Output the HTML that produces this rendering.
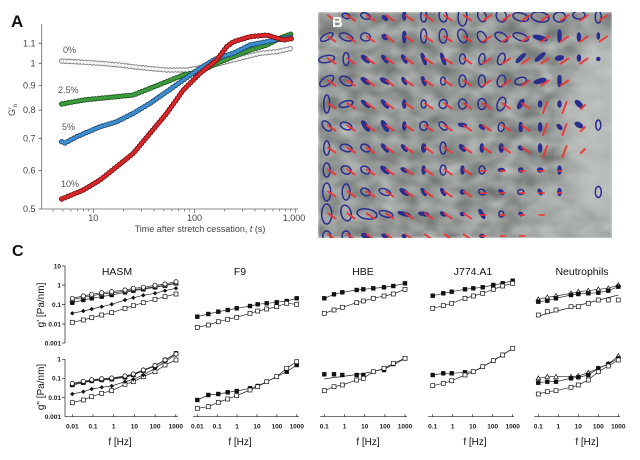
<!DOCTYPE html>
<html><head><meta charset="utf-8">
<style>html,body{margin:0;padding:0;background:#fff}svg{display:block}
.s{fill:none;stroke:#222;stroke-width:.7}
.e ellipse{fill:none;stroke:#2c2e8e;stroke-width:1.5}
.e ellipse.f{fill:#2c2e8e}
</style></head><body>
<svg width="640" height="460" viewBox="0 0 640 460" xmlns="http://www.w3.org/2000/svg" font-family="'Liberation Sans', Arial, sans-serif">
<defs>
<marker id="mos" markerWidth="6" markerHeight="6" refX="3" refY="3" markerUnits="userSpaceOnUse" overflow="visible"><rect x="1" y="1" width="4" height="4" fill="#fff" stroke="#111" stroke-width=".7"/></marker>
<marker id="mfs" markerWidth="6" markerHeight="6" refX="3" refY="3" markerUnits="userSpaceOnUse" overflow="visible"><rect x="0.8" y="0.8" width="4.4" height="4.4" fill="#111"/></marker>
<marker id="moc" markerWidth="6" markerHeight="6" refX="3" refY="3" markerUnits="userSpaceOnUse" overflow="visible"><circle cx="3" cy="3" r="2.1" fill="#fff" stroke="#111" stroke-width=".7"/></marker>
<marker id="mfd" markerWidth="6" markerHeight="6" refX="3" refY="3" markerUnits="userSpaceOnUse" overflow="visible"><path d="M3,0.8L5.2,3L3,5.2L0.8,3Z" fill="#111"/></marker>
<marker id="mot" markerWidth="6" markerHeight="6" refX="3" refY="3" markerUnits="userSpaceOnUse" overflow="visible"><path d="M3,0.6L5.3,4.6H0.7Z" fill="#fff" stroke="#111" stroke-width=".7"/></marker>
<filter id="tex" x="318" y="12" width="294" height="226" filterUnits="userSpaceOnUse" color-interpolation-filters="sRGB">
<feTurbulence type="fractalNoise" baseFrequency="0.05 0.08" numOctaves="2" seed="7" result="n"/>
<feColorMatrix in="n" type="matrix" values="0.42 0 0 0 0.37  0.42 0 0 0 0.385  0.42 0 0 0 0.375  0 0 0 0 1" result="c"/>
<feGaussianBlur in="c" stdDeviation="1"/>
</filter>
<filter id="bl10"><feGaussianBlur stdDeviation="10"/></filter>
<filter id="bl04"><feGaussianBlur stdDeviation="0.35"/></filter>
<clipPath id="cb"><rect x="318" y="12" width="294" height="226"/></clipPath>
</defs>

<!-- ============ PANEL A ============ -->
<text x="11" y="27" font-size="17" font-weight="bold" fill="#111">A</text>
<path d="M41.7,24V209H298" stroke="#666" stroke-width=".8" fill="none"/>
<path d="M38.5,209h3.2M38.5,170.7h3.2M38.5,138.3h3.2M38.5,110.2h3.2M38.5,85.4h3.2M38.5,63.3h3.2M38.5,43.3h3.2" stroke="#666" stroke-width=".8"/>
<path d="M93.3,209v4M194.3,209v4M295.3,209v4" stroke="#666" stroke-width=".8"/>
<path d="M53.1,209v2.5M62.9,209v2.5M70.9,209v2.5M77.7,209v2.5M83.5,209v2.5M88.7,209v2.5M123.7,209v2.5M141.5,209v2.5M154,209v2.5M163.9,209v2.5M171.9,209v2.5M178.7,209v2.5M184.5,209v2.5M189.7,209v2.5M224.7,209v2.5M242.5,209v2.5M255,209v2.5M264.9,209v2.5M272.9,209v2.5M279.7,209v2.5M285.5,209v2.5M290.7,209v2.5" stroke="#666" stroke-width=".7"/>
<g font-size="9" fill="#444" text-anchor="end">
<text x="35.5" y="212">0.5</text><text x="35.5" y="173.7">0.6</text><text x="35.5" y="141.3">0.7</text><text x="35.5" y="113.2">0.8</text><text x="35.5" y="88.4">0.9</text><text x="35.5" y="66.3">1</text><text x="35.5" y="46.3">1.1</text>
</g>
<g font-size="9" fill="#444" text-anchor="middle">
<text x="93.3" y="221">10</text><text x="194.5" y="221">100</text><text x="294" y="221">1,000</text>
<text x="200" y="232">Time after stretch cessation, <tspan font-style="italic">t</tspan> (s)</text>
<text transform="translate(15,110) rotate(-90)">G′<tspan font-size="6" dy="2">n</tspan></text>
</g>
<g font-size="9" fill="#555">
<text x="63" y="53">0%</text><text x="58" y="93">2.5%</text><text x="62" y="130">5%</text><text x="61" y="187">10%</text>
</g>
<g fill="none" stroke-linecap="round" stroke-linejoin="round" stroke-dasharray="0 3.4">
<path d="M61.7,61 L80,62 L100,63.3 L120,65 L133,66.7 L150,68.5 L166.7,70 L186.7,70 L206.7,66.7 L233,60 L260,53.3 L276.7,51.7 L293,48" stroke="#7a7a7a" stroke-width="5.4"/>
<path d="M61.7,61 L80,62 L100,63.3 L120,65 L133,66.7 L150,68.5 L166.7,70 L186.7,70 L206.7,66.7 L233,60 L260,53.3 L276.7,51.7 L293,48" stroke="#f4f4f4" stroke-width="3.6"/>
<path d="M61.7,104 L83.3,100 L100,98.3 L133.3,95 L150,88.3 L166.7,81.7 L183.3,75 L200,71.7 L216.7,63.3 L233.3,56.7 L250,50 L266.7,45 L283.3,36.7 L293.3,33.3" stroke="#1d4d1d" stroke-width="5.4"/>
<path d="M61.7,104 L83.3,100 L100,98.3 L133.3,95 L150,88.3 L166.7,81.7 L183.3,75 L200,71.7 L216.7,63.3 L233.3,56.7 L250,50 L266.7,45 L283.3,36.7 L293.3,33.3" stroke="#3c9c3c" stroke-width="3.8"/>
<path d="M61.7,141.7 L65,143 L76.7,136.7 L100,126.7 L116.7,121.7 L133.3,113.3 L150,103.3 L166.7,91.7 L183.3,80 L200,68.3 L216.7,58.3 L233.3,53.3 L250,45 L266.7,41.7 L283.3,38.3 L293.3,36.7" stroke="#1b3f66" stroke-width="5.4"/>
<path d="M61.7,141.7 L65,143 L76.7,136.7 L100,126.7 L116.7,121.7 L133.3,113.3 L150,103.3 L166.7,91.7 L183.3,80 L200,68.3 L216.7,58.3 L233.3,53.3 L250,45 L266.7,41.7 L283.3,38.3 L293.3,36.7" stroke="#3d8fd0" stroke-width="3.8"/>
<path d="M61.7,199 L83.3,190 L100,180 L116.7,166.7 L133.3,153.3 L150,133.3 L166.7,113.3 L183.3,90 L200,73.3 L216.7,60 L226.7,46.7 L233.3,41.7 L250,36.7 L266.7,35 L283.3,40 L293.3,38.3" stroke="#6b0d0d" stroke-width="5.4"/>
<path d="M61.7,199 L83.3,190 L100,180 L116.7,166.7 L133.3,153.3 L150,133.3 L166.7,113.3 L183.3,90 L200,73.3 L216.7,60 L226.7,46.7 L233.3,41.7 L250,36.7 L266.7,35 L283.3,40 L293.3,38.3" stroke="#d8262a" stroke-width="3.8"/>
</g>

<!-- ============ PANEL B ============ -->
<g clip-path="url(#cb)">
<rect x="318" y="12" width="294" height="226" fill="#999" filter="url(#tex)"/>
<ellipse cx="608" cy="125" rx="45" ry="90" fill="#c4c8c5" opacity="0.75" filter="url(#bl10)"/>
<rect x="530" y="180" width="90" height="65" fill="#c0c4c1" opacity="0.5" filter="url(#bl10)"/>
<g class="e" filter="url(#bl04)">
<ellipse cx="346.1" cy="16" rx="4" ry="2.5" transform="rotate(20 346.1 16)"/>
<ellipse cx="365.5" cy="16" rx="5" ry="3" transform="rotate(20 365.5 16)"/>
<ellipse class="f" cx="384.9" cy="18" rx="3" ry="1.5" transform="rotate(40 384.9 18)"/>
<ellipse class="f" cx="404.3" cy="16" rx="1.5" ry="4"/>
<ellipse cx="423.7" cy="16" rx="3" ry="6"/>
<ellipse cx="443.1" cy="16" rx="4" ry="6" transform="rotate(-10 443.1 16)"/>
<ellipse cx="462.5" cy="17" rx="4.5" ry="9"/>
<ellipse cx="481.9" cy="16" rx="4" ry="6" transform="rotate(-20 481.9 16)"/>
<ellipse cx="501.3" cy="16" rx="5" ry="6" transform="rotate(-20 501.3 16)"/>
<ellipse cx="520.7" cy="17" rx="8" ry="4" transform="rotate(15 520.7 17)"/>
<ellipse cx="540.1" cy="17" rx="9" ry="5" transform="rotate(10 540.1 17)"/>
<ellipse cx="559.5" cy="17" rx="6" ry="5"/>
<ellipse cx="578.9" cy="15" rx="6" ry="4"/>
<ellipse cx="598.3" cy="17" rx="3" ry="6"/>

<ellipse cx="326.7" cy="37" rx="7" ry="3" transform="rotate(-30 326.7 37)"/>
<ellipse cx="346.1" cy="37" rx="7" ry="3.5" transform="rotate(20 346.1 37)"/>
<ellipse cx="365.5" cy="37" rx="5" ry="4" transform="rotate(10 365.5 37)"/>
<ellipse class="f" cx="384.9" cy="37" rx="3" ry="2" transform="rotate(40 384.9 37)"/>
<ellipse class="f" cx="404.3" cy="37" rx="1.5" ry="5.5"/>
<ellipse cx="423.7" cy="36" rx="3" ry="7"/>
<ellipse cx="443.1" cy="36" rx="4" ry="7"/>
<ellipse cx="462.5" cy="36" rx="4.5" ry="7" transform="rotate(-20 462.5 36)"/>
<ellipse cx="481.9" cy="37" rx="4" ry="6" transform="rotate(-30 481.9 37)"/>
<ellipse cx="501.3" cy="37" rx="7" ry="4" transform="rotate(30 501.3 37)"/>
<ellipse cx="520.7" cy="37" rx="8" ry="3.5" transform="rotate(20 520.7 37)"/>
<ellipse class="f" cx="540.1" cy="38" rx="7" ry="2" transform="rotate(15 540.1 38)"/>
<ellipse class="f" cx="559.5" cy="36" rx="1.5" ry="6"/>
<ellipse class="f" cx="578.9" cy="37" rx="1.5" ry="4"/>
<ellipse class="f" cx="598.3" cy="36" rx="1" ry="3"/>

<ellipse cx="326.7" cy="59" rx="8" ry="3.5" transform="rotate(-10 326.7 59)"/>
<ellipse cx="346.1" cy="59" rx="3" ry="6.5"/>
<ellipse class="f" cx="365.5" cy="59" rx="5" ry="2" transform="rotate(40 365.5 59)"/>
<ellipse class="f" cx="384.9" cy="59" rx="4.5" ry="1.5" transform="rotate(50 384.9 59)"/>
<ellipse class="f" cx="404.3" cy="59" rx="4.5" ry="1.5" transform="rotate(60 404.3 59)"/>
<ellipse class="f" cx="423.7" cy="59" rx="6" ry="1.5" transform="rotate(70 423.7 59)"/>
<ellipse class="f" cx="443.1" cy="59" rx="6" ry="1.5" transform="rotate(70 443.1 59)"/>
<ellipse cx="462.5" cy="59" rx="3" ry="5"/>
<ellipse cx="481.9" cy="59" rx="3" ry="5.5" transform="rotate(10 481.9 59)"/>
<ellipse cx="501.3" cy="59" rx="3.5" ry="6" transform="rotate(20 501.3 59)"/>
<ellipse class="f" cx="520.7" cy="58" rx="6" ry="1.5" transform="rotate(-45 520.7 58)"/>
<ellipse class="f" cx="540.1" cy="57" rx="6" ry="1.5" transform="rotate(-40 540.1 57)"/>
<ellipse class="f" cx="559.5" cy="58" rx="4" ry="2" transform="rotate(-10 559.5 58)"/>
<ellipse class="f" cx="578.9" cy="58" rx="1.5" ry="3"/>
<ellipse class="f" cx="598.3" cy="59" rx="1.5" ry="1.5"/>

<ellipse cx="326.7" cy="81" rx="8" ry="4" transform="rotate(-35 326.7 81)"/>
<ellipse cx="346.1" cy="81" rx="7" ry="4" transform="rotate(30 346.1 81)"/>
<ellipse class="f" cx="365.5" cy="81" rx="5" ry="2" transform="rotate(35 365.5 81)"/>
<ellipse class="f" cx="384.9" cy="81" rx="5" ry="2" transform="rotate(30 384.9 81)"/>
<ellipse class="f" cx="404.3" cy="81" rx="4" ry="1.5" transform="rotate(60 404.3 81)"/>
<ellipse class="f" cx="423.7" cy="81" rx="4.5" ry="1.5" transform="rotate(70 423.7 81)"/>
<ellipse cx="443.1" cy="81" rx="2.5" ry="4"/>
<ellipse cx="462.5" cy="81" rx="3.5" ry="6"/>
<ellipse cx="481.9" cy="81" rx="3.5" ry="6"/>
<ellipse cx="501.3" cy="81" rx="4" ry="6" transform="rotate(15 501.3 81)"/>
<ellipse cx="520.7" cy="81" rx="6" ry="3.5" transform="rotate(-15 520.7 81)"/>
<ellipse class="f" cx="540.1" cy="81" rx="6" ry="2" transform="rotate(-15 540.1 81)"/>
<ellipse class="f" cx="559.5" cy="81" rx="1.5" ry="5.5"/>

<ellipse cx="326.7" cy="104" rx="3" ry="9"/>
<ellipse cx="346.1" cy="104" rx="7" ry="3" transform="rotate(-15 346.1 104)"/>
<ellipse class="f" cx="365.5" cy="104" rx="5" ry="1.5" transform="rotate(40 365.5 104)"/>
<ellipse class="f" cx="384.9" cy="104" rx="5" ry="1.5" transform="rotate(50 384.9 104)"/>
<ellipse class="f" cx="404.3" cy="104" rx="1.5" ry="4"/>
<ellipse cx="423.7" cy="104" rx="2.5" ry="4"/>
<ellipse cx="443.1" cy="104" rx="4" ry="4.5" transform="rotate(20 443.1 104)"/>
<ellipse cx="462.5" cy="104" rx="4" ry="5"/>
<ellipse cx="481.9" cy="104" rx="4" ry="5.5"/>
<ellipse cx="501.3" cy="104" rx="4" ry="7" transform="rotate(20 501.3 104)"/>
<ellipse class="f" cx="520.7" cy="104" rx="5" ry="2" transform="rotate(-60 520.7 104)"/>
<ellipse class="f" cx="540.1" cy="104" rx="1.5" ry="3"/>
<ellipse class="f" cx="559.5" cy="104" rx="1.5" ry="3"/>
<ellipse class="f" cx="578.9" cy="104" rx="4.5" ry="2" transform="rotate(45 578.9 104)"/>

<ellipse cx="326.7" cy="126" rx="6" ry="3.5" transform="rotate(50 326.7 126)"/>
<ellipse cx="346.1" cy="126" rx="6" ry="3.5" transform="rotate(20 346.1 126)"/>
<ellipse class="f" cx="365.5" cy="126" rx="6" ry="2" transform="rotate(55 365.5 126)"/>
<ellipse class="f" cx="384.9" cy="126" rx="6" ry="2" transform="rotate(60 384.9 126)"/>
<ellipse class="f" cx="404.3" cy="126" rx="1.5" ry="4"/>
<ellipse cx="423.7" cy="126" rx="4" ry="4.5"/>
<ellipse cx="443.1" cy="126" rx="5" ry="3" transform="rotate(45 443.1 126)"/>
<ellipse class="f" cx="462.5" cy="125" rx="4" ry="1.5" transform="rotate(10 462.5 125)"/>
<ellipse class="f" cx="481.9" cy="127" rx="3" ry="1.5" transform="rotate(40 481.9 127)"/>
<ellipse cx="501.3" cy="127" rx="3" ry="4.5" transform="rotate(10 501.3 127)"/>
<ellipse class="f" cx="520.7" cy="127" rx="1.5" ry="4.5"/>
<ellipse class="f" cx="540.1" cy="127" rx="1.5" ry="4"/>
<ellipse class="f" cx="559.5" cy="127" rx="3" ry="1.5" transform="rotate(45 559.5 127)"/>
<ellipse class="f" cx="578.9" cy="125" rx="4" ry="2" transform="rotate(30 578.9 125)"/>
<ellipse cx="598.3" cy="125" rx="2.5" ry="5"/>

<ellipse cx="326.7" cy="148" rx="3" ry="7"/>
<ellipse cx="346.1" cy="148" rx="6" ry="3.5" transform="rotate(15 346.1 148)"/>
<ellipse cx="365.5" cy="148" rx="5" ry="3.5" transform="rotate(30 365.5 148)"/>
<ellipse class="f" cx="384.9" cy="148" rx="5" ry="1.5" transform="rotate(50 384.9 148)"/>
<ellipse class="f" cx="404.3" cy="148" rx="4" ry="1.5" transform="rotate(50 404.3 148)"/>
<ellipse class="f" cx="423.7" cy="148" rx="2" ry="4"/>
<ellipse cx="443.1" cy="148" rx="3" ry="6"/>
<ellipse class="f" cx="462.5" cy="148" rx="4" ry="2" transform="rotate(45 462.5 148)"/>
<ellipse class="f" cx="481.9" cy="148" rx="1.5" ry="4"/>
<ellipse class="f" cx="501.3" cy="148" rx="2" ry="4"/>
<ellipse class="f" cx="520.7" cy="148" rx="2.5" ry="1.5" transform="rotate(30 520.7 148)"/>
<ellipse class="f" cx="540.1" cy="148" rx="1.5" ry="4"/>

<ellipse cx="326.7" cy="170" rx="3.5" ry="7"/>
<ellipse cx="346.1" cy="170" rx="5" ry="4" transform="rotate(20 346.1 170)"/>
<ellipse cx="365.5" cy="170" rx="5" ry="3.5" transform="rotate(30 365.5 170)"/>
<ellipse class="f" cx="384.9" cy="170" rx="5" ry="2" transform="rotate(40 384.9 170)"/>
<ellipse class="f" cx="404.3" cy="170" rx="3.5" ry="1.5" transform="rotate(30 404.3 170)"/>
<ellipse class="f" cx="423.7" cy="170" rx="1.5" ry="4"/>
<ellipse cx="443.1" cy="170" rx="3" ry="5"/>
<ellipse class="f" cx="462.5" cy="170" rx="1.5" ry="4"/>
<ellipse cx="481.9" cy="170" rx="3" ry="4"/>
<ellipse class="f" cx="501.3" cy="170" rx="3" ry="1.5"/>
<ellipse class="f" cx="520.7" cy="170" rx="2" ry="2"/>
<ellipse class="f" cx="540.1" cy="170" rx="2.5" ry="2"/>
<ellipse class="f" cx="559.5" cy="170" rx="1.5" ry="4"/>

<ellipse cx="326.7" cy="192" rx="4" ry="9"/>
<ellipse cx="346.1" cy="192" rx="4" ry="8"/>
<ellipse cx="365.5" cy="192" rx="5" ry="3.5" transform="rotate(30 365.5 192)"/>
<ellipse cx="384.9" cy="192" rx="6" ry="3" transform="rotate(20 384.9 192)"/>
<ellipse class="f" cx="404.3" cy="192" rx="5" ry="2" transform="rotate(35 404.3 192)"/>
<ellipse class="f" cx="423.7" cy="192" rx="4" ry="1.5" transform="rotate(60 423.7 192)"/>
<ellipse class="f" cx="443.1" cy="192" rx="4" ry="1.5" transform="rotate(60 443.1 192)"/>
<ellipse class="f" cx="462.5" cy="192" rx="2" ry="2"/>
<ellipse cx="481.9" cy="192" rx="3.5" ry="2.5" transform="rotate(30 481.9 192)"/>
<ellipse class="f" cx="501.3" cy="192" rx="3" ry="1.5" transform="rotate(45 501.3 192)"/>
<ellipse cx="520.7" cy="192" rx="3" ry="2.5"/>
<ellipse class="f" cx="540.1" cy="192" rx="3" ry="1.5" transform="rotate(60 540.1 192)"/>
<ellipse class="f" cx="559.5" cy="192" rx="1.5" ry="3.5"/>
<ellipse cx="598.3" cy="192" rx="3" ry="5.5"/>

<ellipse cx="326.7" cy="214" rx="5" ry="10"/>
<ellipse cx="346.1" cy="213" rx="5" ry="8" transform="rotate(-15 346.1 213)"/>
<ellipse cx="367" cy="214" rx="10" ry="5" transform="rotate(10 367 214)"/>
<ellipse cx="386" cy="214" rx="7" ry="3" transform="rotate(15 386 214)"/>
<ellipse class="f" cx="404.3" cy="214" rx="6" ry="1.5" transform="rotate(15 404.3 214)"/>
<ellipse class="f" cx="423.7" cy="214" rx="5" ry="1.5" transform="rotate(10 423.7 214)"/>
<ellipse class="f" cx="443.1" cy="214" rx="3" ry="1.5" transform="rotate(30 443.1 214)"/>
<ellipse class="f" cx="462.5" cy="214" rx="2" ry="1.5"/>
<ellipse class="f" cx="481.9" cy="214" rx="5" ry="1.5" transform="rotate(60 481.9 214)"/>
<ellipse cx="501.3" cy="214" rx="2.5" ry="3"/>
<ellipse class="f" cx="520.7" cy="214" rx="2" ry="1.5" transform="rotate(30 520.7 214)"/>

<ellipse cx="326.7" cy="236" rx="4" ry="5"/>
<ellipse cx="346.1" cy="236" rx="4" ry="5"/>
<ellipse class="f" cx="365.5" cy="236" rx="4" ry="2" transform="rotate(20 365.5 236)"/>
<ellipse class="f" cx="384.9" cy="236" rx="3" ry="1.5" transform="rotate(20 384.9 236)"/>
<ellipse class="f" cx="404.3" cy="236" rx="2" ry="1.5"/>
<ellipse class="f" cx="481.9" cy="236" rx="2" ry="1.5"/>
</g>
<g fill="none" stroke="#ef3434" stroke-width="2" stroke-linecap="round" opacity="0.92" filter="url(#bl04)">
<path d="M328,15.4l7.4,5.2m12,-5.2l7.4,5.2m12,-5.2l7.4,5.2m12,-5.2l7.4,5.2m12,-5.2l7.4,5.2m12,-5.2l7.4,5.2m12,-5.2l7.4,5.2m12,-5.2l7.4,5.2
M328,36.4l7.4,5.2m12,-5.2l7.4,5.2m12,-5.2l7.4,5.2m12,-5.2l7.4,5.2m12,-5.2l7.4,5.2m12,-5.2l7.4,5.2m12,-5.2l7.4,5.2m12,-5.2l7.4,5.2
M328,58.4l7.4,5.2m12,-5.2l7.4,5.2m12,-5.2l7.4,5.2m12,-5.2l7.4,5.2m12,-5.2l7.4,5.2m12,-5.2l7.4,5.2m12,-5.2l7.4,5.2m12,-5.2l7.4,5.2
M328,80.4l7.4,5.2m12,-5.2l7.4,5.2m12,-5.2l7.4,5.2m12,-5.2l7.4,5.2m12,-5.2l7.4,5.2m12,-5.2l7.4,5.2m12,-5.2l7.4,5.2m12,-5.2l7.4,5.2
M328,103.4l7.4,5.2m12,-5.2l7.4,5.2m12,-5.2l7.4,5.2m12,-5.2l7.4,5.2m12,-5.2l7.4,5.2m12,-5.2l7.4,5.2m12,-5.2l7.4,5.2m12,-5.2l7.4,5.2
M328,125.4l7.4,5.2m12,-5.2l7.4,5.2m12,-5.2l7.4,5.2m12,-5.2l7.4,5.2m12,-5.2l7.4,5.2m12,-5.2l7.4,5.2m12,-5.2l7.4,5.2m12,-5.2l7.4,5.2
M328,147.4l7.4,5.2m12,-5.2l7.4,5.2m12,-5.2l7.4,5.2m12,-5.2l7.4,5.2m12,-5.2l7.4,5.2m12,-5.2l7.4,5.2m12,-5.2l7.4,5.2m12,-5.2l7.4,5.2
M328,169.4l7.4,5.2m12,-5.2l7.4,5.2m12,-5.2l7.4,5.2m12,-5.2l7.4,5.2m12,-5.2l7.4,5.2m12,-5.2l7.4,5.2m12,-5.2l7.4,5.2m12,-5.2l7.4,5.2
M328,191.4l7.4,5.2m12,-5.2l7.4,5.2m12,-5.2l7.4,5.2m12,-5.2l7.4,5.2m12,-5.2l7.4,5.2m12,-5.2l7.4,5.2m12,-5.2l7.4,5.2m12,-5.2l7.4,5.2
M328,213.4l7.4,5.2m12,-5.2l7.4,5.2m12,-5.2l7.4,5.2m12,-5.2l7.4,5.2m12,-5.2l7.4,5.2m12,-5.2l7.4,5.2m12,-5.2l7.4,5.2m12,-5.2l7.4,5.2
M328,234.4l7.4,5.2m12,-5.2l7.4,5.2m12,-5.2l7.4,5.2m12,-5.2l7.4,5.2m12,-5.2l7.4,5.2m12,-5.2l7.4,5.2m12,-5.2l7.4,5.2m12,-5.2l7.4,5.2
M483.2,20.6l7.4,-5.2m12,5.2l7.4,-5.2m12,5.2l7.4,-5.2m12,5.2l7.4,-5.2m12,5.2l7.4,-5.2m12,5.2l7.4,-5.2m12,5.2l7.4,-5.2
M483.2,41.6l7.4,-5.2m12,5.2l7.4,-5.2m12,5.2l7.4,-5.2m12,5.2l7.4,-5.2m12,5.2l7.4,-5.2m12,5.2l7.4,-5.2m12,5.2l7.4,-5.2
M483.2,63.6l7.4,-5.2m12,5.2l7.4,-5.2m12,5.2l7.4,-5.2m12,5.2l7.4,-5.2m12,5.2l7.4,-5.2m12,5.2l7.4,-5.2
M483.2,85.6l7.4,-5.2m12,5.2l7.4,-5.2m12,5.2l7.4,-5.2m12,5.2l7.4,-5.2m12,5.2l7.4,-5.2
M483.2,103.4l7.4,5.2m12,-5.2l7.4,5.2m12,-5.2l7.4,5.2
M483.2,125.4l7.4,5.2m12,-5.2l7.4,5.2m12,-5.2l7.4,5.2
M483.2,147.4l7.4,5.2m12,-5.2l7.4,5.2m12,-5.2l7.4,5.2
M543.1,113l4,-11m15.4,11l4,-11
M543.1,135l4,-11m15.4,11l4,-11
M543.1,157l4,-11m15.4,11l4,-11
M580.9,109l4,-4M580.9,131l4,-4M580.9,153l4,-4"/>
<path stroke-width="1.7" d="M480.9,171l5,0m14.4,0l5,0m14.4,0l5,0m14.4,0l5,0m14.4,0l3,0
M480.9,193l5,0m14.4,0l5,0m14.4,0l5,0m14.4,0l5,0m14.4,0l3,0
M480.9,215l5,0m14.4,0l5,0m14.4,0l5,0m14.4,0l5,0
M480.9,236l5,0m14.4,0l5,0m14.4,0l5,0"/>
</g>
<text x="332" y="27" font-size="15" font-weight="bold" fill="#fff">B</text>
</g>

<!-- ============ PANEL C ============ -->
<text x="12" y="256" font-size="16" font-weight="bold" fill="#111">C</text>
<g font-size="10.5" fill="#111" text-anchor="middle">
<text x="117" y="275">HASM</text><text x="240" y="275">F9</text><text x="363" y="275">HBE</text><text x="473" y="275">J774.A1</text><text x="582" y="275">Neutrophils</text>
</g>
<g font-size="10" fill="#111" text-anchor="middle">
<text x="120" y="445">f [Hz]</text><text x="240" y="445">f [Hz]</text><text x="368" y="445">f [Hz]</text><text x="475" y="445">f [Hz]</text><text x="587" y="445">f [Hz]</text>
<text transform="translate(44,305) rotate(-90)">g' [Pa/nm]</text>
<text transform="translate(44,387) rotate(-90)">g" [Pa/nm]</text>
</g>
<g stroke="#222" stroke-width=".7" fill="none">
<path d="M65,266V343M62,266h3M62,285h3M62,304.5h3M62,324h3M62,343h3"/>
<path d="M65,359V416.7M62,359.3h3M62,378.3h3M62,397.7h3"/>
<path d="M65,416.7H178M193,416.7H299M320,416.7H407M428,416.7H514M534,416.7H620"/>
<path d="M72.3,416.7v-2.5M93,416.7v-2.5M113.7,416.7v-2.5M134.4,416.7v-2.5M155.1,416.7v-2.5M175.8,416.7v-2.5
M197.3,416.7v-2.5M217.2,416.7v-2.5M237.1,416.7v-2.5M257,416.7v-2.5M276.9,416.7v-2.5M296.8,416.7v-2.5
M324.3,416.7v-2.5M344.5,416.7v-2.5M364.7,416.7v-2.5M384.9,416.7v-2.5M405,416.7v-2.5
M432.7,416.7v-2.5M452.7,416.7v-2.5M472.7,416.7v-2.5M492.7,416.7v-2.5M512.7,416.7v-2.5
M538.3,416.7v-2.5M558.3,416.7v-2.5M578.3,416.7v-2.5M598.3,416.7v-2.5M618.3,416.7v-2.5"/>
</g>
<g font-size="6.5" font-weight="bold" fill="#222" text-anchor="end">
<text x="61" y="268.3">10</text><text x="61" y="287.3">1</text><text x="61" y="306.8">0.1</text><text x="61" y="326.3">0.01</text><text x="61" y="345.3">0.001</text>
<text x="61" y="361.6">1</text><text x="61" y="380.6">0.1</text><text x="61" y="400">0.01</text><text x="61" y="419">0.001</text>
</g>
<g font-size="6.5" font-weight="bold" fill="#222" text-anchor="middle">
<text x="72.3" y="428.5">0.01</text><text x="93" y="428.5">0.1</text><text x="113.7" y="428.5">1</text><text x="134.4" y="428.5">10</text><text x="155.1" y="428.5">100</text><text x="175.8" y="428.5">1000</text>
<text x="197.3" y="428.5">0.01</text><text x="217.2" y="428.5">0.1</text><text x="237.1" y="428.5">1</text><text x="257" y="428.5">10</text><text x="276.9" y="428.5">100</text><text x="296.8" y="428.5">1000</text>
<text x="324.3" y="428.5">0.1</text><text x="344.5" y="428.5">1</text><text x="364.7" y="428.5">10</text><text x="384.9" y="428.5">100</text><text x="405" y="428.5">1000</text>
<text x="432.7" y="428.5">0.1</text><text x="452.7" y="428.5">1</text><text x="472.7" y="428.5">10</text><text x="492.7" y="428.5">100</text><text x="512.7" y="428.5">1000</text>
<text x="538.3" y="428.5">0.1</text><text x="558.3" y="428.5">1</text><text x="578.3" y="428.5">10</text><text x="598.3" y="428.5">100</text><text x="618.3" y="428.5">1000</text>
</g>

<polyline class="s" marker-start="url(#mos)" marker-mid="url(#mos)" marker-end="url(#mos)" points="72.3,322.3 83.3,320 91.7,317.7 101.7,315 111.7,312.7 125,308.3 133.3,305.7 143.3,302.7 155,299.3 165,296.7 176,294"/>
<polyline class="s" marker-start="url(#mfd)" marker-mid="url(#mfd)" marker-end="url(#mfd)" points="72.3,313.3 83.3,311 91.7,309 101.7,306.7 111.7,304.3 125,300 133.3,297.7 143.3,295.3 155,293.3 165,290.7 176,288.3"/>
<polyline class="s" marker-start="url(#mfs)" marker-mid="url(#mfs)" marker-end="url(#mfs)" points="72.3,302.7 83.3,300 91.7,298.3 101.7,296.7 111.7,295 125,292.3 133.3,290.7 143.3,289.3 155,287.3 165,285.7 176,283.3"/>
<polyline class="s" marker-start="url(#mot)" marker-mid="url(#mot)" marker-end="url(#mot)" points="72.3,299.6 83.3,297.3 91.7,295.6 101.7,294 111.7,293 125,291.3 133.3,289.6 143.3,288.6 155,286.6 165,285.3 176,283"/>
<polyline class="s" marker-start="url(#moc)" marker-mid="url(#moc)" marker-end="url(#moc)" points="72.3,298.3 83.3,296 91.7,294.3 101.7,292.7 111.7,291.7 125,290 133.3,288.3 143.3,287.3 155,285.3 165,284 176,281.7"/>
<polyline class="s" marker-start="url(#mos)" marker-mid="url(#mos)" marker-end="url(#mos)" points="72.3,402.7 83.3,400 91.7,396.7 101.7,393.3 111.7,390.7 125,384.3 133.3,381.7 143.3,376.7 155,371.7 165,365 176,360"/>
<polyline class="s" marker-start="url(#mfd)" marker-mid="url(#mfd)" marker-end="url(#mfd)" points="72.3,394 83.3,391.7 91.7,389 101.7,387.3 111.7,386 125,381.7 133.3,379.3 143.3,375 155,368.3 165,361.7 176,355"/>
<polyline class="s" marker-start="url(#mfs)" marker-mid="url(#mfs)" marker-end="url(#mfs)" points="72.3,385 83.3,382.7 91.7,381 101.7,380 111.7,379.3 125,377.3 133.3,375 143.3,370.7 155,366 165,360 176,353.3"/>
<polyline class="s" marker-start="url(#mot)" marker-mid="url(#mot)" marker-end="url(#mot)" points="72.3,384 83.3,382 91.7,380.3 101.7,379.3 111.7,378.6 125,376.6 133.3,374.5 143.3,370.3 155,365.7 165,360 176,353.6"/>
<polyline class="s" marker-start="url(#moc)" marker-mid="url(#moc)" marker-end="url(#moc)" points="72.3,383.5 83.3,381.3 91.7,379.7 101.7,378.7 111.7,378 125,376 133.3,374 143.3,370 155,365.5 165,360 176,354"/>
<polyline class="s" marker-start="url(#mfs)" marker-mid="url(#mfs)" marker-end="url(#mfs)" points="197.3,316.7 208.3,314 218.3,311.7 227.7,310 236.7,308.3 250,306 257.7,304.3 266.7,303.3 276.7,302.3 286.7,301 296.7,298.3"/>
<polyline class="s" marker-start="url(#mos)" marker-mid="url(#mos)" marker-end="url(#mos)" points="197.3,327.3 208.3,325 218.3,321.7 227.7,319.3 236.7,317.3 250,313.3 257.7,311 266.7,309 276.7,306.7 286.7,303.3 296.7,304.3"/>
<polyline class="s" marker-start="url(#mfs)" marker-mid="url(#mfs)" marker-end="url(#mfs)" points="197.3,400 208.3,395 218.3,394 227.7,392.3 236.7,391 250,388.3 257.7,386 266.7,381.7 276.7,376.7 286.7,371.7 296.7,365"/>
<polyline class="s" marker-start="url(#mos)" marker-mid="url(#mos)" marker-end="url(#mos)" points="197.3,408.3 208.3,406.7 218.3,402.3 227.7,399 236.7,395.7 250,390 257.7,386.7 266.7,381.7 276.7,376.7 286.7,368.3 296.7,361.7"/>
<polyline class="s" marker-start="url(#mfs)" marker-mid="url(#mfs)" marker-end="url(#mfs)" points="324.3,298.3 334,294.3 342.3,292.3 356.7,290 363.3,289.3 373.3,288.3 384,287.3 393.3,286 405,283.3"/>
<polyline class="s" marker-start="url(#mos)" marker-mid="url(#mos)" marker-end="url(#mos)" points="324.3,313.3 334,310 342.3,307.3 356.7,302.7 363.3,301 373.3,298.3 384,296 393.3,294 405,289.3"/>
<polyline class="s" points="324.3,379 334,377.5 342.3,376.5 356.7,374.5 363.3,373.5 373.3,371.5 384,369 393.3,365 405,358.3"/>
<polyline fill="none" stroke="none" marker-start="url(#mfs)" marker-mid="url(#mfs)" marker-end="url(#mfs)" points="324.3,374.3 334,374.3 342.3,375 356.7,375 363.3,375 373.3,371.7 384,370 393.3,364 405,358.3"/>
<polyline class="s" marker-start="url(#mos)" marker-mid="url(#mos)" marker-end="url(#mos)" points="324.3,390.7 334,386.7 342.3,385 356.7,380 363.3,378.3 373.3,371.7 384,368.3 393.3,363.3 405,358.3"/>
<polyline class="s" marker-start="url(#mfs)" marker-mid="url(#mfs)" marker-end="url(#mfs)" points="432.7,295.7 443.3,293.3 451.7,291.7 465,289.3 473.3,288.3 482.7,287.3 493.3,285 502.7,283.3 512.7,280.7"/>
<polyline class="s" marker-start="url(#mos)" marker-mid="url(#mos)" marker-end="url(#mos)" points="432.7,308.3 443.3,305.7 451.7,303.3 465,298.3 473.3,296 482.7,293.3 493.3,289.3 502.7,286 512.7,283.3"/>
<polyline class="s" marker-start="url(#mfs)" marker-mid="url(#mfs)" marker-end="url(#mfs)" points="432.7,375 443.3,373.3 451.7,373.3 465,372.3 473.3,371.7 482.7,366.7 493.3,360.7 502.7,355 512.7,348.3"/>
<polyline class="s" marker-start="url(#mos)" marker-mid="url(#mos)" marker-end="url(#mos)" points="432.7,385.7 443.3,383.3 451.7,380.7 465,375 473.3,371.7 482.7,366.7 493.3,360.7 502.7,355 512.7,348.3"/>
<polyline class="s" marker-start="url(#mot)" marker-mid="url(#mot)" marker-end="url(#mot)" points="538.3,299.3 547.3,297.3 556,296 571,293.3 578.3,291.7 588.3,290.7 598.3,289.3 608.3,288.3 618.3,285"/>
<polyline class="s" marker-start="url(#mfs)" marker-mid="url(#mfs)" marker-end="url(#mfs)" points="538.3,301.7 547.3,300.7 556,298.3 571,295 578.3,294 588.3,293.3 598.3,292.7 608.3,290.7 618.3,286.7"/>
<line class="s" x1="538.3" y1="316" x2="618.3" y2="295"/>
<polyline fill="none" stroke="none" marker-start="url(#mos)" marker-mid="url(#mos)" marker-end="url(#mos)" points="538.3,315 547.3,311.7 556,310 571,306.7 578.3,306.7 588.3,303.3 598.3,300 608.3,300 618.3,300"/>
<polyline class="s" marker-start="url(#mot)" marker-mid="url(#mot)" marker-end="url(#mot)" points="538.3,378.3 547.3,376.7 556,376.7 571,376.7 578.3,376 588.3,372.7 598.3,368.3 608.3,364 618.3,356"/>
<polyline class="s" marker-start="url(#mfs)" marker-mid="url(#mfs)" marker-end="url(#mfs)" points="538.3,382.7 547.3,381.7 556,381.7 571,378.3 578.3,377.3 588.3,375 598.3,368.3 608.3,364 618.3,358.3"/>
<polyline class="s" marker-start="url(#mos)" marker-mid="url(#mos)" marker-end="url(#mos)" points="538.3,394 547.3,391.7 556,390.7 571,387.3 578.3,385 588.3,380 598.3,371.7 608.3,366 618.3,360"/>
</svg>
</body></html>
